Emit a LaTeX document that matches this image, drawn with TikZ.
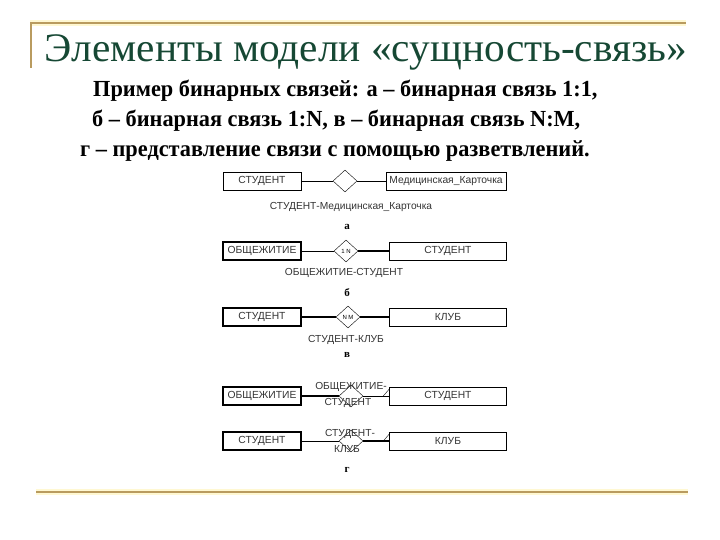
\documentclass[tikz,border=0pt]{standalone}
\usepackage{fontspec}
\setmainfont{Liberation Serif}
\setsansfont{Liberation Sans}
\newfontfamily\subfont[FakeStretch=0.97]{Liberation Serif}
\newfontfamily\headfont[FakeStretch=1.02]{Liberation Serif}
\usetikzlibrary{shapes.geometric}

\definecolor{titlegreen}{RGB}{22,72,52}
\definecolor{framegold}{RGB}{185,155,95}
\definecolor{frameglow}{RGB}{255,248,210}

\begin{document}
\begin{tikzpicture}[x=1pt,y=-1pt,
	entity/.style={draw, thin, minimum width=78pt, minimum height=18pt, inner sep=0pt,
		font=\sffamily\fontsize{10.3}{11}\selectfont, text=black!80},
	entitybold/.style={entity, line width=1.6pt},
	rel/.style={draw, thin, diamond, minimum width=24pt, minimum height=22pt, inner sep=0pt,
		font=\sffamily\fontsize{6}{6}\selectfont},
	lbl/.style={inner sep=0pt, font=\sffamily\fontsize{10.2}{11}\selectfont, text=black!80},
	tag/.style={inner sep=0pt, font=\bfseries\fontsize{11}{12}\selectfont},
	heavy/.style={line width=1.8pt}]
	\useasboundingbox (0,0) rectangle (720,540);
	% frame lines
	\draw[frameglow, line width=6pt] (30,23) -- (686,23);
	\draw[frameglow, line width=6pt] (36,492) -- (688,492);
	\draw[framegold, line width=2pt] (30,23) -- (686,23);
	\draw[framegold, line width=2pt] (31,23) -- (31,68);
	\draw[framegold, line width=2.5pt] (36,492) -- (688,492);
	% title and text
	\node[anchor=base, inner sep=0pt, text=titlegreen, font=\headfont\fontsize{40.5}{42}\selectfont] (title) at (366,62)
		{Элементы модели «сущность-связь»};
	\node[anchor=base west, inner sep=0pt, font=\subfont\bfseries\fontsize{23}{25}\selectfont] (line1) at (93,97)
		{Пример бинарных связей: а – бинарная связь 1:1,};
	\node[anchor=base west, inner sep=0pt, font=\subfont\bfseries\fontsize{23}{25}\selectfont] (line2) at (92,127)
		{б – бинарная связь 1:N, в – бинарная связь N:M,};
	\node[anchor=base west, inner sep=0pt, font=\subfont\bfseries\fontsize{23}{25}\selectfont] (line3) at (80,157)
		{г – представление связи с помощью разветвлений.};
	% а: 1:1
	\node[entity] (st1) at (262,181) {СТУДЕНТ};
	\node[rel] (r1) at (345,181) {};
	\node[entity, minimum width=120pt] (mk1) at (446,181) {Медицинская\_Карточка};
	\draw (st1) -- (r1) -- (mk1);
	\node[lbl] (l1) at (351,207) {СТУДЕНТ-Медицинская\_Карточка};
	\node[tag] (ta) at (347,227) {а};
	% б: 1:N
	\node[entitybold] (ob2) at (262,251) {ОБЩЕЖИТИЕ};
	\node[rel] (r2) at (346,251) {1 N};
	\node[entity, minimum width=117pt] (st2) at (448,251) {СТУДЕНТ};
	\draw (ob2) -- (r2);
	\draw[heavy] (r2) -- (st2);
	\node[lbl] (l2) at (344,273) {ОБЩЕЖИТИЕ-СТУДЕНТ};
	\node[tag] (tb) at (347,293) {б};
	% в: N:M
	\node[entitybold] (st3) at (262,317) {СТУДЕНТ};
	\node[rel] (r3) at (348,317) {N M};
	\node[entity, minimum width=117pt] (kl3) at (448,317) {КЛУБ};
	\draw[heavy] (st3) -- (r3) -- (kl3);
	\node[lbl] (l3) at (346,340) {СТУДЕНТ-КЛУБ};
	\node[tag] (tv) at (347,355) {в};
	% г: branches
	\node[entitybold] (ob4) at (262,396) {ОБЩЕЖИТИЕ};
	\node[rel] (r4) at (351,396) {};
	\node[entity, minimum width=117pt] (st4) at (448,396) {СТУДЕНТ};
	\draw[heavy] (ob4) -- (r4);
	\draw (r4) -- (st4);
	\draw ([xshift=-6pt]st4.west) -- ([yshift=7pt]st4.west);
	\node[lbl] (l4a) at (351,387) {ОБЩЕЖИТИЕ-};
	\node[lbl] (l4b) at (348,403) {СТУДЕНТ};
	\node[entitybold] (st5) at (262,441) {СТУДЕНТ};
	\node[rel] (r5) at (351,441) {};
	\node[entity, minimum width=117pt] (kl5) at (448,441) {КЛУБ};
	\draw (st5) -- (r5);
	\draw[heavy] (r5) -- (kl5);
	\draw ([xshift=-6pt]kl5.west) -- ([yshift=7pt]kl5.west);
	\node[lbl] (l5a) at (350,434) {СТУДЕНТ-};
	\node[lbl] (l5b) at (347,449) {КЛУБ};
	\node[tag] (tg) at (347,470) {г};
\end{tikzpicture}
\end{document}
